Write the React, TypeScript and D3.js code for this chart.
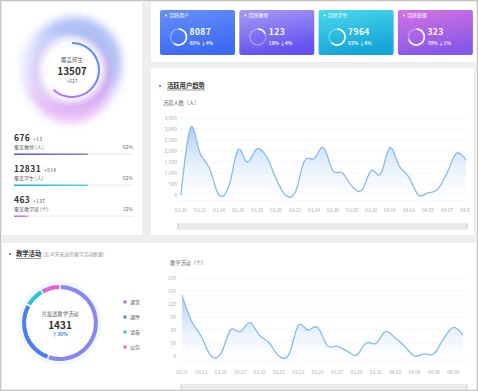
import React from 'react';
import * as d3 from 'd3';

// top chart: active users per day
const trendDates = ['03.10','03.11','03.12','03.13','03.14','03.15','03.16','03.17','03.18','03.19','03.20','03.21','03.22','03.23','03.24','03.25','03.26','03.27','03.28','03.29','03.30','03.31','04.01','04.02','04.03','04.04','04.05','04.06','04.07','04.08','04.09'];
const activeUsers = [0,3050,1900,1200,0,350,2050,1500,2100,1750,750,0,100,1550,1650,2150,1100,1000,400,200,1100,950,2150,1300,800,0,100,250,1000,1900,1600];
const userTicks = [0,500,1000,1500,2000,2500,3000,3500];

// bottom chart: teaching activities per day
const activityDates = ['03.11','03.12','03.13','03.14','03.15','03.16','03.17','03.18','03.19','03.20','03.21','03.22','03.23','03.24','03.25','03.26','03.27','03.28','03.29','03.30','03.31','04.01','04.02','04.03','04.04','04.05','04.06','04.07','04.08','04.09'];
const activityCounts = [140,80,45,0,5,60,56,77,48,30,0,2,70,60,66,24,22,12,2,30,29,56,42,22,0,5,5,40,66,48];
const activityTicks = [0,30,60,90,120,150,180];

// cards
const cardTitles = ['活跃用户','活跃教师','活跃学生','活跃班级'];
const cardValues = [8087,123,7964,323];
const cardRates = [60,18,62,70];
const cardChanges = ['↓4%','↓4%','↓4%','↓1%'];
const cardColors = [['#6590f7','#3f6bf2'],['#a59cf4','#6552ef'],['#4bd8ee','#14a6d6'],['#d672e2','#8859e8']];

// coverage stats
const coverLabels = ['覆盖教师 (人)','覆盖学生 (人)','覆盖教学班 (个)'];
const coverValues = [676,12831,463];
const coverDeltas = ['+13','+814','+137'];
const coverRates = [62,62,12];
const coverColors = [['#4f57ee','#8a7cf4'],['#1fb3de','#4fd8ec'],['#b56cf0','#d88af4']];

// donut
const donutCats = ['课堂','课件','试卷','公告'];
const donutVals = [800,400,116,115];
const donutColors = ['url(#gPurple)','#4a7ff0','#2cc0e2','#e062d4'];
const legendColors = ['#a26ef0','#4a7ff0','#2cc0e2','#e062d4'];

const FONT = '"Noto Sans CJK SC", "Noto Sans", sans-serif';

export default function App() {
  // top chart scales
  const x1 = d3.scaleLinear().domain([0, trendDates.length - 1]).range([181, 466]);
  const y1 = d3.scaleLinear().domain([0, 3500]).range([195, 118]);
  const curve1 = d3.curveCardinal.tension(-0.1);
  const line1 = d3.line<number>().x((d, i) => x1(i)).y(d => y1(d)).curve(curve1);
  const area1 = d3.area<number>().x((d, i) => x1(i)).y0(201).y1(d => y1(d)).curve(curve1);

  // bottom chart scales
  const x2 = d3.scaleLinear().domain([0, activityDates.length - 1]).range([182, 463]);
  const y2 = d3.scaleLinear().domain([0, 180]).range([356, 278]);
  const line2 = d3.line<number>().x((d, i) => x2(i)).y(d => y2(d)).curve(curve1);
  const area2 = d3.area<number>().x((d, i) => x2(i)).y0(362).y1(d => y2(d)).curve(curve1);

  // big coverage ring
  const cx = 72, cy = 70;
  const bigArc = d3.arc()({ innerRadius: 26, outerRadius: 28, startAngle: 0, endAngle: Math.PI * 2 * 0.62, cornerRadius: 1 } as any) as string;

  // donut
  const pie = d3.pie<number>().sort(null).padAngle(0.03)(donutVals);
  const donutArc = d3.arc<d3.PieArcDatum<number>>().innerRadius(34).outerRadius(38);

  return (
    <svg width={478} height={391} style={{ position: 'absolute', left: 0, top: 0, fontFamily: FONT }}>
      <defs>
        <linearGradient id="gArea" x1="0" y1="0" x2="0" y2="1">
          <stop offset="0" stopColor="#9cc4f7" stopOpacity={0.85} />
          <stop offset="1" stopColor="#ffffff" stopOpacity={0.2} />
        </linearGradient>
        <linearGradient id="gBig" gradientUnits="userSpaceOnUse" x1={cx + 10} y1={cy - 28} x2={cx - 22} y2={cy + 22}>
          <stop offset="0" stopColor="#5a8cf5" />
          <stop offset="0.5" stopColor="#a77bf1" />
          <stop offset="1" stopColor="#ea6ce6" />
        </linearGradient>
        <linearGradient id="gPurple" gradientUnits="userSpaceOnUse" x1="60" y1="285" x2="50" y2="361">
          <stop offset="0" stopColor="#8a86f2" />
          <stop offset="1" stopColor="#b463f0" />
        </linearGradient>
        {cardColors.map((c, i) => (
          <linearGradient key={i} id={'gCard' + i} x1="0" y1="0" x2="0.3" y2="1">
            <stop offset="0" stopColor={c[0]} />
            <stop offset="1" stopColor={c[1]} />
          </linearGradient>
        ))}
        {coverColors.map((c, i) => (
          <linearGradient key={i} id={'gBar' + i} x1="0" y1="0" x2="1" y2="0">
            <stop offset="0" stopColor={c[0]} />
            <stop offset="1" stopColor={c[1]} />
          </linearGradient>
        ))}
        <filter id="blur" x="-30%" y="-30%" width="160%" height="160%">
          <feGaussianBlur stdDeviation="4.5" />
        </filter>
        <radialGradient id="gGlow">
          <stop offset="0.72" stopColor="#ffffff" stopOpacity={1} />
          <stop offset="1" stopColor="#ffffff" stopOpacity={0} />
        </radialGradient>
        <clipPath id="clipTop"><rect x={151} y={100} width={319} height={130} /></clipPath>
        <clipPath id="clipPlot1"><rect x={170} y={100} width={300} height={101.5} /></clipPath>
        <clipPath id="clipPlot2"><rect x={170} y={270} width={300} height={92.5} /></clipPath>
      </defs>

      {/* page background and panels */}
      <rect x={0.5} y={0.5} width={477} height={390} fill="#eeeeee" stroke="#c4c4c4" />
      <rect x={2} y={2} width={140} height={233} fill="#fff" />
      <rect x={151} y={2} width={325} height={60} fill="#fff" />
      <rect x={151} y={68} width={323} height={167} fill="#fff" />
      <rect x={2} y={243} width={474} height={146} fill="#fff" />

      {/* coverage blob */}
      <g filter="url(#blur)">
        <circle cx={cx} cy={cy - 2} r={52} fill="#e8ebfc" />
        <circle cx={cx + 4} cy={cy - 8} r={45} fill="#9db2f3" opacity={0.75} />
        <circle cx={cx - 2} cy={cy + 11} r={42} fill="#e59cf0" opacity={0.6} />
        <circle cx={cx - 14} cy={cy - 2} r={34} fill="#e6e8fb" opacity={0.55} />
      </g>
      <circle cx={cx} cy={cy} r={37} fill="url(#gGlow)" />
      <circle cx={cx} cy={cy} r={25} fill="#fff" stroke="#ececf4" strokeWidth={0.6} />
      <path d={bigArc} transform={`translate(${cx},${cy})`} fill="url(#gBig)" />
      <text x={cx} y={62} textAnchor="middle" fontSize={5.5} fill="#666">覆盖师生</text>
      <text x={cx} y={74.5} textAnchor="middle" fontSize={10} fontWeight="bold" fill="#333">13507</text>
      <text x={cx} y={83} textAnchor="middle" fontSize={5} fill="#666">+627</text>

      {/* coverage stats */}
      {coverValues.map((v, i) => {
        const y0 = 141 + i * 31;
        const bar = d3.scaleLinear().domain([0, 100]).range([14, 133]);
        return (
          <g key={i}>
            <text x={14} y={y0} fontSize={8.5} fontWeight="bold" fill="#333" letterSpacing={0.4}>{v}</text>
            <text x={i === 1 ? 44 : 33} y={y0 - 0.5} fontSize={5} fill="#555" letterSpacing={0.3}>{coverDeltas[i]}</text>
            <text x={14} y={y0 + 7.5} fontSize={5} fill="#666">{coverLabels[i]}</text>
            <text x={133} y={y0 + 7.5} fontSize={5} fill="#666" textAnchor="end">{coverRates[i]}%</text>
            <rect x={bar(0)} y={y0 + 12.5} width={bar(100) - bar(0)} height={1.5} fill="#f1f1f4" />
            <rect x={bar(0)} y={y0 + 12.5} width={bar(coverRates[i]) - bar(0)} height={1.5} fill={`url(#gBar${i})`} />
          </g>
        );
      })}

      {/* cards */}
      {cardValues.map((v, i) => {
        const bx = 160 + i * 79.3;
        const ring = d3.arc()({ innerRadius: 7.2, outerRadius: 8.8, startAngle: 0, endAngle: Math.PI * 2 * cardRates[i] / 100 } as any) as string;
        return (
          <g key={i}>
            <rect x={bx} y={10} width={75} height={45} rx={2} fill={`url(#gCard${i})`} />
            <circle cx={bx + 6} cy={15.5} r={1} fill="#fff" />
            <text x={bx + 9} y={17.3} fontSize={5} fill="#fff">{cardTitles[i]}</text>
            <circle cx={bx + 18.5} cy={37} r={8} fill="none" stroke="#fff" strokeOpacity={0.3} strokeWidth={1.6} />
            <path d={ring} transform={`translate(${bx + 18.5},37)`} fill="#fff" />
            <text x={bx + 29.5} y={35} fontSize={8.5} fontWeight="bold" fill="#fff" letterSpacing={0.4}>{v}</text>
            <text x={bx + 29.5} y={44.5} fontSize={4.8} fontWeight="bold" fill="#fff" fillOpacity={0.9}>{cardRates[i]}%  {cardChanges[i]}</text>
          </g>
        );
      })}

      {/* top chart */}
      <circle cx={160} cy={86} r={1.1} fill="#3f7ef0" />
      <text x={167} y={88} fontSize={6.3} fontWeight="bold" fill="#333">活跃用户趋势</text>
      <line x1={167} x2={205} y1={90} y2={90} stroke="#555" strokeWidth={0.6} />
      <text x={163} y={105} fontSize={5.2} fill="#666">活跃人数（人）</text>
      {userTicks.map(t => (
        <g key={t}>
          <line x1={178} x2={468} y1={y1(t)} y2={y1(t)} stroke="#f0f0f0" strokeWidth={0.6} />
          <text x={177} y={y1(t) + 1.8} fontSize={5} fill="#b0b0b0" textAnchor="end">{d3.format(',')(t)}</text>
        </g>
      ))}
      <line x1={178} x2={468} y1={201} y2={201} stroke="#ececec" strokeWidth={0.6} />
      <g clipPath="url(#clipPlot1)">
        <path d={area1(activeUsers) as string} fill="url(#gArea)" />
        <path d={line1(activeUsers) as string} fill="none" stroke="#86baf2" strokeWidth={1.3} />
      </g>
      <g clipPath="url(#clipTop)">
        {trendDates.map((d, i) => i % 2 === 0 && (
          <text key={d} x={x1(i)} y={212} fontSize={4.8} fill="#aaa" textAnchor="middle">{d}</text>
        ))}
      </g>
      <rect x={177} y={223} width={291} height={7} fill="#ebebeb" />
      <line x1={178} x2={178} y1={224} y2={229} stroke="#bbb" strokeWidth={0.6} />
      <line x1={467} x2={467} y1={224} y2={229} stroke="#bbb" strokeWidth={0.6} />

      {/* bottom panel */}
      <circle cx={10} cy={254} r={1.1} fill="#3f7ef0" />
      <text x={16} y={256.3} fontSize={6.3} fontWeight="bold" fill="#333">教学活动</text>
      <line x1={16} x2={41} y1={258.5} y2={258.5} stroke="#555" strokeWidth={0.6} />
      <text x={43} y={256} fontSize={4.8} fill="#999">(近30天发送的教学活动数量)</text>

      {/* donut */}
      <circle cx={60} cy={323} r={42} fill="#f3f7fe" />
      <circle cx={60} cy={323} r={34} fill="#fff" />
      <g transform="translate(60,323)">
        {pie.map((p, i) => (
          <path key={i} d={donutArc(p) as string} fill={donutColors[i]} />
        ))}
      </g>
      <text x={60} y={316} textAnchor="middle" fontSize={5.3} fill="#666">共发送教学活动</text>
      <text x={60} y={328.5} textAnchor="middle" fontSize={10} fontWeight="bold" fill="#333">1431</text>
      <text x={60} y={336} textAnchor="middle" fontSize={5} fill="#3a8ae6" fontWeight="bold">↑30%</text>
      {donutCats.map((c, i) => (
        <g key={c}>
          <rect x={123.5} y={300.5 + i * 15} width={3} height={3} fill={legendColors[i]} rx={0.4} />
          <text x={130} y={304 + i * 15} fontSize={5} fill="#555">{c}</text>
        </g>
      ))}

      {/* bottom chart */}
      <text x={170} y={265} fontSize={5.2} fill="#666">教学活动（个）</text>
      {activityTicks.map(t => (
        <g key={t}>
          <line x1={180} x2={468} y1={y2(t)} y2={y2(t)} stroke="#f0f0f0" strokeWidth={0.6} />
          <text x={176} y={y2(t) + 1.8} fontSize={5} fill="#b0b0b0" textAnchor="end">{t}</text>
        </g>
      ))}
      <line x1={180} x2={468} y1={362} y2={362} stroke="#ececec" strokeWidth={0.6} />
      <g clipPath="url(#clipPlot2)">
        <path d={area2(activityCounts) as string} fill="url(#gArea)" />
        <path d={line2(activityCounts) as string} fill="none" stroke="#86baf2" strokeWidth={1.3} />
      </g>
      {activityDates.map((d, i) => i % 2 === 0 && (
        <text key={d} x={x2(i)} y={373.5} fontSize={4.8} fill="#aaa" textAnchor="middle">{d}</text>
      ))}
      <rect x={180} y={384} width={288} height={6} fill="#ebebeb" />
      <line x1={181} x2={181} y1={385} y2={389} stroke="#bbb" strokeWidth={0.6} />
      <line x1={467} x2={467} y1={385} y2={389} stroke="#bbb" strokeWidth={0.6} />
    </svg>
  );
}
